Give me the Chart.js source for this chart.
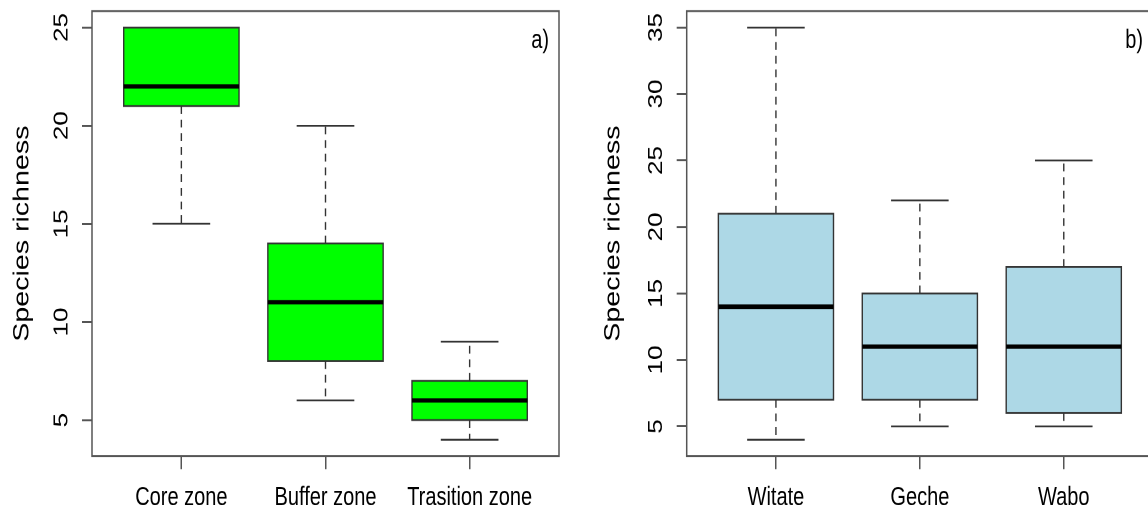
<!DOCTYPE html>
<html lang="en">
  <head>
    <meta charset="UTF-8" />
    <title>Species richness box plots</title>
    <style>
      body {
        margin: 0;
        padding: 0;
        width: 1148px;
        height: 511px;
        overflow: hidden;
        background: #fff;
        position: relative;
      }
      /* the source figure is stretched vertically, so each panel is drawn
         at 393px tall and scaled up to 511px */
      .panel {
        position: absolute;
        top: 0;
        height: 393px;
        transform: scale(1, 1.3003);
        transform-origin: top left;
      }
      #panelA { left: 0; width: 574px; }
      #panelB { left: 574px; width: 594px; }
    </style>
  </head>
  <body>
    <div class="panel" id="panelA"><canvas id="chartA" width="574" height="393"></canvas></div>
    <div class="panel" id="panelB"><canvas id="chartB" width="594" height="393"></canvas></div>

    <script src="https://cdn.jsdelivr.net/npm/chart.js"></script>
    <script>
      // a) zones
      const zones = ["Core zone", "Buffer zone", "Trasition zone"];
      const zoneMin = [15, 6, 4];
      const zoneQ1 = [21, 8, 5];
      const zoneMedian = [22, 11, 6];
      const zoneQ3 = [25, 14, 7];
      const zoneMax = [25, 20, 9];

      // b) sites
      const sites = ["Witate", "Geche", "Wabo"];
      const siteMin = [4, 5, 5];
      const siteQ1 = [7, 7, 6];
      const siteMedian = [14, 11, 11];
      const siteQ3 = [21, 15, 17];
      const siteMax = [35, 22, 25];

      const zoneTicks = [5, 10, 15, 20, 25];
      const siteTicks = [5, 10, 15, 20, 25, 30, 35];

      const FONT = "'Liberation Sans', Arial, sans-serif";

      const boxPlugin = {
        id: "boxParts",
        beforeDatasetsDraw(chart) {
          const box = chart.options.plugins.boxParts;
          const ctx = chart.ctx;
          const xs = chart.scales.x;
          const ys = chart.scales.y;
          const meta = chart.getDatasetMeta(0);
          ctx.save();
          ctx.strokeStyle = "#333";
          ctx.lineWidth = 1.4;
          box.min.forEach((lo, i) => {
            const x = xs.getPixelForValue(i + 1);
            const half = meta.data[i].width / 4;
            const ends = [[box.q3[i], box.max[i]], [box.q1[i], lo]];
            ends.forEach(([from, to]) => {
              if (from === to) return;
              ctx.setLineDash([6, 4.5]);
              ctx.beginPath();
              ctx.moveTo(x, ys.getPixelForValue(from));
              ctx.lineTo(x, ys.getPixelForValue(to));
              ctx.stroke();
              ctx.setLineDash([]);
              ctx.beginPath();
              ctx.moveTo(x - half, ys.getPixelForValue(to));
              ctx.lineTo(x + half, ys.getPixelForValue(to));
              ctx.stroke();
            });
          });
          ctx.restore();
        },
        afterDatasetsDraw(chart) {
          const box = chart.options.plugins.boxParts;
          const ctx = chart.ctx;
          const xs = chart.scales.x;
          const ys = chart.scales.y;
          const meta = chart.getDatasetMeta(0);
          ctx.save();
          box.median.forEach((m, i) => {
            const x = xs.getPixelForValue(i + 1);
            const half = meta.data[i].width / 2;
            const top = ys.getPixelForValue(box.q3[i]);
            const bottom = ys.getPixelForValue(box.q1[i]);
            ctx.strokeStyle = "#333";
            ctx.lineWidth = 1.4;
            ctx.strokeRect(x - half, top, half * 2, bottom - top);
            ctx.strokeStyle = "#000";
            ctx.lineWidth = 3.4;
            const y = ys.getPixelForValue(m);
            ctx.beginPath();
            ctx.moveTo(x - half, y);
            ctx.lineTo(x + half, y);
            ctx.stroke();
          });
          // plot frame
          const a = chart.chartArea;
          ctx.strokeStyle = "#555";
          ctx.lineWidth = 1.5;
          ctx.strokeRect(a.left, a.top, a.right - a.left, a.bottom - a.top);
          // panel tag
          ctx.fillStyle = "#000";
          ctx.font = "20px " + FONT;
          ctx.textAlign = "right";
          ctx.textBaseline = "middle";
          ctx.fillText(box.tag, a.right - 10, a.top + 23);
          ctx.restore();
        },
      };

      function makeChart(id, labels, lo, q1, med, q3, hi, ticks, color, yMin, yMax, tag, yWidth, titlePad) {
        new Chart(document.getElementById(id), {
          type: "bar",
          data: {
            datasets: [
              {
                data: labels.map((l, i) => ({ x: i + 1, y: [q1[i], q3[i]] })),
                backgroundColor: color,
                borderWidth: 0,
                categoryPercentage: 1,
                barPercentage: 0.8,
              },
            ],
          },
          options: {
            responsive: false,
            animation: false,
            devicePixelRatio: 2,
            layout: { padding: { top: 8.5, right: 15, left: 0, bottom: 0 } },
            scales: {
              x: {
                type: "linear",
                offset: false,
                min: 0.38,
                max: 3.62,
                afterBuildTicks: (s) => {
                  s.ticks = labels.map((l, i) => ({ value: i + 1 }));
                },
                afterFit: (s) => {
                  s.height = 42.2;
                  s.paddingLeft = 0;
                  s.paddingRight = 0;
                },
                ticks: {
                  callback: (v) => labels[v - 1],
                  color: "#000",
                  font: { family: FONT, size: 20 },
                  padding: 10,
                  maxRotation: 0,
                  autoSkip: false,
                },
                grid: {
                  offset: false,
                  drawOnChartArea: false,
                  drawTicks: true,
                  tickLength: 10,
                  color: "#555",
                  lineWidth: 1.5,
                },
                border: { display: false },
              },
              y: {
                min: yMin,
                max: yMax,
                afterBuildTicks: (s) => {
                  s.ticks = ticks.map((v) => ({ value: v }));
                },
                afterFit: (s) => {
                  s.width = yWidth;
                  s.paddingTop = 0;
                  s.paddingBottom = 0;
                },
                ticks: {
                  color: "#000",
                  font: { family: FONT, size: 20 },
                  minRotation: 90,
                  maxRotation: 90,
                  crossAlign: "center",
                  padding: 9,
                },
                grid: {
                  drawOnChartArea: false,
                  drawTicks: true,
                  tickLength: 10,
                  color: "#555",
                  lineWidth: 1.5,
                },
                border: { display: false },
                title: {
                  display: true,
                  text: "Species richness",
                  color: "#000",
                  font: { family: FONT, size: 22 },
                  padding: { top: titlePad, bottom: 0 },
                },
              },
            },
            plugins: {
              legend: { display: false },
              tooltip: { enabled: false },
              boxParts: { min: lo, q1: q1, median: med, q3: q3, max: hi, tag: tag },
            },
          },
          plugins: [boxPlugin],
        });
      }

      makeChart("chartA", zones, zoneMin, zoneQ1, zoneMedian, zoneQ3, zoneMax,
        zoneTicks, "#00FF00", 3.16, 25.84, "a)", 92, 9);
      makeChart("chartB", sites, siteMin, siteQ1, siteMedian, siteQ3, siteMax,
        siteTicks, "#ADD8E6", 2.76, 36.24, "b)", 112.7, 26);
    </script>
  </body>
</html>
